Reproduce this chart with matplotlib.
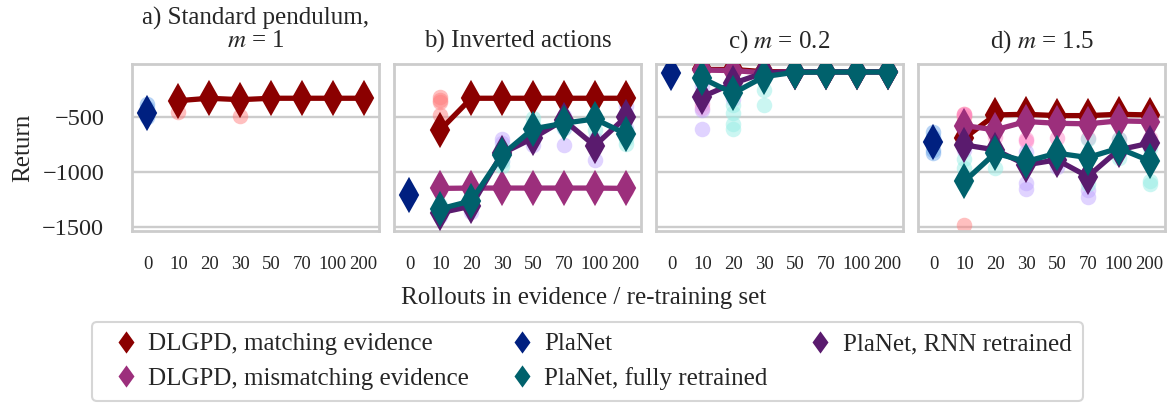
import matplotlib
matplotlib.use("Agg")
import matplotlib.pyplot as plt
from matplotlib.lines import Line2D

plt.rcParams['font.family'] = ['Liberation Serif', 'DejaVu Serif']
plt.rcParams['mathtext.fontset'] = 'stix'

categories = ["0", "10", "20", "30", "50", "70", "100", "200"]
titles = ["a) Standard pendulum,\n$m$ = 1", "b) Inverted actions", "c) $m$ = 0.2", "d) $m$ = 1.5"]
yticks = [-500, -1000, -1500]

# PlaNet (only at 0 rollouts)
planet_mean = [-464, -1206, -100, -727]
planet_runs = [[-380, -420, -470, -495], [-1190, -1215, -1220], [-90, -105], [-630, -680, -830, -800]]

# Means at 10..200 rollouts
a_match = [-349, -327, -340, -327, -327, -327, -327]
b_match = [-615, -327, -327, -327, -327, -327, -327]
c_match = [-65, -65, -85, -85, -85, -85, -85]
d_match = [-691, -479, -473, -485, -485, -473, -479]

b_mismatch = [-1148, -1145, -1145, -1145, -1145, -1145, -1148]
c_mismatch = [-70, -75, -95, -85, -85, -85, -85]
d_mismatch = [-576, -615, -539, -555, -560, -533, -539]

b_rnn = [-1370, -1310, -830, -690, -525, -760, -500]
c_rnn = [-313, -191, -95, -88, -88, -88, -88]
d_rnn = [-752, -797, -933, -888, -1040, -797, -736]

b_full = [-1334, -1262, -843, -606, -555, -515, -650]
c_full = [-145, -282, -130, -90, -88, -88, -88]
d_full = [-1085, -827, -903, -827, -867, -782, -897]

# Individual runs at 10..200 rollouts
a_match_runs = [[-330, -345, -449], [-320, -330], [-330, -488], [-325, -330], [-325, -330], [-325, -330], [-325, -335]]
b_match_runs = [[-320, -345, -360, -480], [-320, -335], [-320, -335], [-320, -335], [-320, -335], [-320, -335], [-320, -335]]
c_match_runs = [[-60, -80], [-60, -75], [-80, -95], [-80, -95], [-80, -95], [-80, -95], [-80, -95]]
d_match_runs = [[-470, -500, -1479, -560], [-465, -495], [-460, -490], [-470, -500], [-470, -500], [-460, -490], [-465, -495]]

b_mismatch_runs = [[-1135, -1160], [-1135, -1155], [-1135, -1155], [-1135, -1155], [-1135, -1155], [-1135, -1155], [-1135, -1160]]
c_mismatch_runs = [[-418, -380], [-80], [-100], [-85], [-85], [-85], [-85]]
d_mismatch_runs = [[-470, -480], [-680], [-715, -700], [-690], [-690], [-700], [-690, -540]]

b_rnn_runs = [[-1330, -1400], [-1290, -1360], [-700, -730, -900], [-640, -750], [-490, -750, -600], [-893, -700], [-400, -470, -600]]
c_rnn_runs = [[-218, -340, -430, -610], [-230, -330], [-100], [-88], [-88], [-88], [-88]]
d_rnn_runs = [[-800, -700], [-800], [-1095, -1150, -820], [-950], [-1165, -1225], [-820], [-740]]

b_full_runs = [[-1300, -1370], [-1230, -1290], [-900, -940, -780], [-510, -560, -700], [-540, -600], [-520, -615], [-700, -745, -620]]
c_full_runs = [[-120], [-385, -460, -560, -605], [-250, -385], [-90], [-88], [-88], [-88]]
d_full_runs = [[-1110, -880, -960], [-960, -780], [-880], [-880], [-1110, -700], [-870, -700], [-1080, -1110, -780]]

labels = ["DLGPD, matching evidence", "DLGPD, mismatching evidence", "PlaNet",
          "PlaNet, fully retrained", "PlaNet, RNN retrained"]
dark = {"match": "#8b0000", "mismatch": "#9c2f7c", "planet": "#002080",
        "full": "#00616c", "rnn": "#5a1b6e"}
light = {"match": "#ff8080", "mismatch": "#ff88c8", "planet": "#6fa8ec",
         "full": "#99eee6", "rnn": "#c2a8ff"}

panels = [
    {"match": (a_match, a_match_runs)},
    {"match": (b_match, b_match_runs), "mismatch": (b_mismatch, b_mismatch_runs),
     "rnn": (b_rnn, b_rnn_runs), "full": (b_full, b_full_runs)},
    {"match": (c_match, c_match_runs), "mismatch": (c_mismatch, c_mismatch_runs),
     "rnn": (c_rnn, c_rnn_runs), "full": (c_full, c_full_runs)},
    {"match": (d_match, d_match_runs), "mismatch": (d_mismatch, d_mismatch_runs),
     "rnn": (d_rnn, d_rnn_runs), "full": (d_full, d_full_runs)},
]

W, H = 1175, 403
fig = plt.figure(figsize=(W / 100, H / 100), dpi=100)
lefts = [132, 394, 656, 918]
axw, top, bot = 247, 64, 231
FS = 18
TXT = '#262626'

for i, ax_left in enumerate(lefts):
    ax = fig.add_axes([ax_left / W, 1 - bot / H, axw / W, (bot - top) / H])
    ax.set_xlim(-0.5, 7.5)
    ax.set_ylim(-1536, -15)
    ax.set_yticks(yticks)
    ax.grid(axis='y', color='#cccccc', lw=1.7, zorder=0)
    ax.set_axisbelow(True)
    for s in ax.spines.values():
        s.set_color('#cccccc')
        s.set_linewidth(2.0)
    ax.set_xticks(range(len(categories)))
    ax.set_xticklabels(categories)
    ax.tick_params(axis='x', length=0, pad=18, labelsize=13.5, colors=TXT)
    ax.tick_params(axis='y', length=0, pad=20, labelsize=17.5, colors=TXT)
    if i > 0:
        ax.set_yticklabels([])
    else:
        ax.set_ylabel("Return", fontsize=FS, labelpad=6, color=TXT)
    ax.set_title(titles[i], fontsize=FS, pad=12, color=TXT, linespacing=1.0)

    xs_idx = list(range(1, 8))
    for k in ["match", "mismatch", "rnn", "full"]:
        if k in panels[i]:
            runs = panels[i][k][1]
            for j, vals in enumerate(runs):
                ax.scatter([xs_idx[j]] * len(vals), vals, s=125, color=light[k],
                           alpha=0.5, linewidths=0, zorder=2)
    ax.scatter([0] * len(planet_runs[i]), planet_runs[i], s=125, color=light["planet"],
               alpha=0.5, linewidths=0, zorder=2)
    z = 3
    for k in ["match", "mismatch"]:
        if k in panels[i]:
            ax.plot(xs_idx, panels[i][k][0], color=dark[k], lw=3.8, marker='d',
                    ms=16, mew=1.5, zorder=z)
            z += 1
    ax.plot([0], [planet_mean[i]], color=dark["planet"], marker='d', ms=16, mew=1.5,
            ls='none', zorder=z)
    for k in ["rnn", "full"]:
        if k in panels[i]:
            z += 1
            ax.plot(xs_idx, panels[i][k][0], color=dark[k], lw=3.8, marker='d',
                    ms=16, mew=1.5, zorder=z)

fig.text(0.497, 1 - 298 / H, "Rollouts in evidence / re-training set", ha='center',
         va='center', fontsize=FS, color=TXT)

thin = [(0, 1), (0.72, 0), (0, -1), (-0.72, 0), (0, 1)]
keys = ["match", "mismatch", "planet", "full", "rnn"]
handles = [Line2D([], [], color=dark[k], marker=thin, ms=16, ls='none', mew=0) for k in keys]
leg = fig.legend(handles, labels, ncol=3, loc='center',
                 bbox_to_anchor=(587.5 / W, 1 - 361.5 / H),
                 fontsize=FS, frameon=True, fancybox=True, edgecolor='#cccccc',
                 handlelength=1.8, handletextpad=0.0, columnspacing=1.2,
                 borderpad=0.45, labelspacing=0.48)
leg.get_frame().set_linewidth(1.5)
for t in leg.get_texts():
    t.set_color(TXT)

fig.savefig("out.png", dpi=100)
